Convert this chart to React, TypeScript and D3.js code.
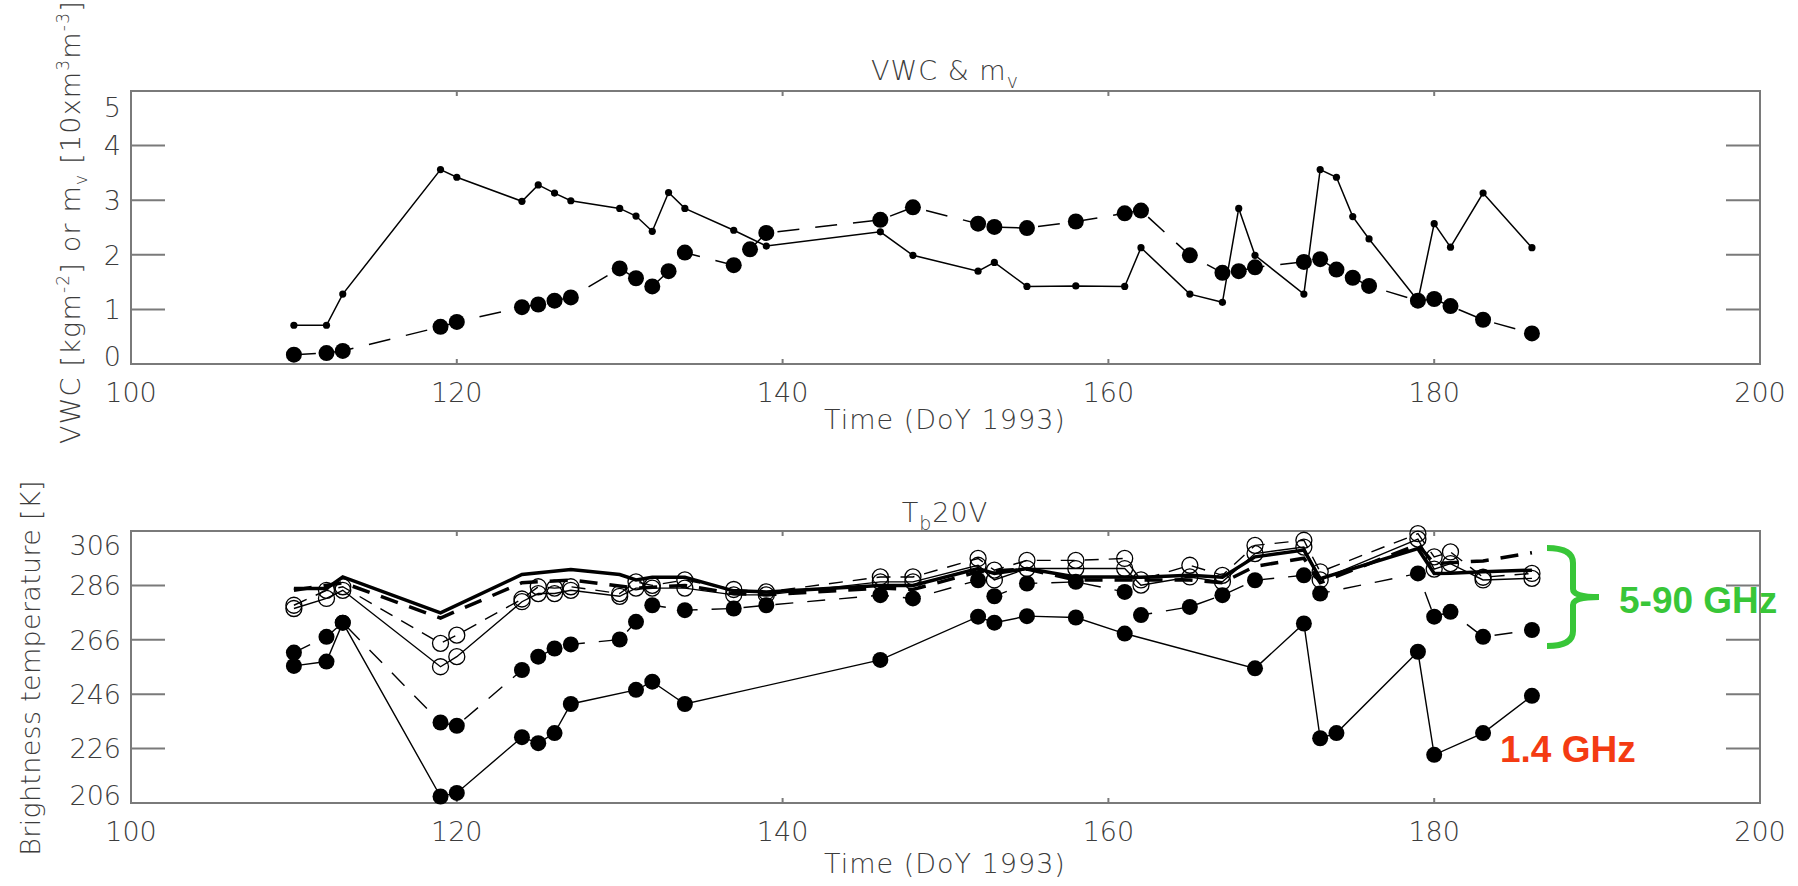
import React from "react";
import * as d3 from "d3";

// top panel: VWC (large dots, dashed) and m_v (small dots, solid)
const mvDays = [110, 112, 113, 119, 120, 124, 125, 126, 127, 130, 131, 132, 133, 134, 137, 139, 146, 148, 152, 153, 155, 158, 161, 162, 165, 167, 168, 169, 172, 173, 174, 175, 176, 179, 180, 181, 183, 186];
const mvValues = [0.71, 0.71, 1.28, 3.56, 3.42, 2.98, 3.28, 3.13, 2.99, 2.85, 2.71, 2.43, 3.14, 2.85, 2.45, 2.16, 2.42, 1.99, 1.7, 1.86, 1.42, 1.43, 1.42, 2.13, 1.28, 1.13, 2.85, 1.99, 1.28, 3.56, 3.42, 2.7, 2.29, 1.16, 2.57, 2.14, 3.13, 2.13];
const vwcDays = [110, 112, 113, 119, 120, 124, 125, 126, 127, 130, 131, 132, 133, 134, 137, 138, 139, 146, 148, 152, 153, 155, 158, 161, 162, 165, 167, 168, 169, 172, 173, 174, 175, 176, 179, 180, 181, 183, 186];
const vwcValues = [0.17, 0.2, 0.24, 0.68, 0.77, 1.04, 1.09, 1.16, 1.22, 1.75, 1.57, 1.42, 1.7, 2.04, 1.81, 2.1, 2.4, 2.64, 2.87, 2.57, 2.51, 2.49, 2.61, 2.76, 2.81, 1.99, 1.67, 1.7, 1.77, 1.87, 1.92, 1.73, 1.58, 1.43, 1.16, 1.19, 1.06, 0.81, 0.56];

// bottom panel: brightness temperatures
const tbDays = [110, 112, 113, 119, 120, 124, 125, 126, 127, 130, 131, 132, 134, 137, 139, 146, 148, 152, 153, 155, 158, 161, 162, 165, 167, 169, 172, 173, 179, 180, 181, 183, 186];
const openUpper = [278.7, 284.2, 285.5, 264.7, 267.7, 281, 285.5, 285, 285.5, 283, 287.3, 286, 288, 284.5, 283.6, 289.1, 289.1, 295.9, 291.6, 295.2, 295.2, 295.9, 288, 293.4, 289.7, 300.7, 302.6, 291, 305, 296.5, 298.3, 289, 290.4];
const openLower = [277.5, 281.2, 284.2, 256.1, 259.8, 280, 283, 283, 284.2, 282, 285, 285, 285, 282.5, 282.5, 287.3, 287.3, 293.4, 288, 292.2, 292.2, 292.2, 286.1, 289.1, 287.3, 297.7, 300.1, 288, 303, 292, 294, 288, 288.6];
const filledDashed = [261.3, 267.1, 272.3, 235.6, 234.4, 254.9, 259.8, 262.8, 264.3, 266.1, 272.6, 278.7, 276.9, 277.5, 278.7, 282.4, 281.2, 287.9, 282, 286.7, 287.3, 283.6, 275.1, 278.1, 282.4, 287.9, 289.7, 283, 290.4, 274.5, 276.3, 267.1, 269.6];

const lDays = [110, 112, 113, 119, 120, 124, 125, 126, 127, 131, 132, 134, 146, 152, 153, 155, 158, 161, 169, 172, 173, 174, 179, 180, 183, 186];
const lValues = [256.4, 258, 272.3, 208.4, 209.7, 230.2, 228, 231.7, 242.4, 247.6, 250.6, 242.4, 258.6, 274.5, 272.3, 274.7, 274.2, 268.3, 255.5, 272, 229.8, 231.7, 261.6, 223.7, 231.7, 245.4];

const thickDays = [110, 112, 113, 119, 124, 127, 130, 131, 132, 134, 137, 139, 146, 148, 152, 153, 155, 158, 161, 162, 165, 167, 169, 172, 173, 179, 180, 181, 183, 186];
const thickValues = [284.9, 284.9, 289.1, 275.9, 290, 291.8, 290, 288, 289, 289, 284, 283.6, 286, 286, 292.2, 290.4, 292.2, 289.1, 289.1, 289, 289.7, 289, 296.5, 299, 288.5, 299.5, 290.4, 290.5, 291, 291.6];
const thickDashDays = [110, 113, 119, 124, 127, 131, 134, 137, 139, 146, 148, 152, 155, 158, 161, 165, 167, 169, 172, 173, 179, 180, 183, 186];
const thickDashValues = [284.2, 287, 274, 287, 288, 285, 286, 283, 282.5, 285, 284.5, 291, 292, 288, 288, 288, 287, 293, 296, 287, 301, 294, 295, 298];

const xTicks = [100, 120, 140, 160, 180, 200];
const topTicks = [0, 1, 2, 3, 4, 5];
const botTicks = [206, 226, 246, 266, 286, 306];

const W = 1798;
const H = 886;
const FONT = "'DejaVu Sans', sans-serif";
const TXT = "#3c3c3c";
const FRAME = "#7a7a7a";

const x = d3.scaleLinear().domain([100, 200]).range([131, 1760]);
const yTop = d3.scaleLinear().domain([0, 5]).range([364, 91]);
const yBot = d3.scaleLinear().domain([206, 306]).range([803, 531]);

function zip(days: number[], vals: number[]) {
  return days.map((d, i) => [d, vals[i]] as [number, number]);
}

function Frame({ y, ticks, labelOffset }: { y: d3.ScaleLinear<number, number>; ticks: number[]; labelOffset: [number, number] }) {
  const [y0, y1] = y.range();
  const [lo, hi] = y.domain();
  return (
    <g>
      <rect x={131} y={y1} width={1760 - 131} height={y0 - y1} fill="none" stroke={FRAME} strokeWidth={2} />
      {xTicks.map((t) => (
        <g key={"xt" + t}>
          <line x1={x(t)} x2={x(t)} y1={y0} y2={y0 - 5} stroke={FRAME} strokeWidth={2} />
          <line x1={x(t)} x2={x(t)} y1={y1} y2={y1 + 5} stroke={FRAME} strokeWidth={2} />
          <text x={x(t)} y={y0 + 38} textAnchor="middle" fontSize={27} fill={TXT} fontFamily={FONT} fontWeight={200}>
            {t}
          </text>
        </g>
      ))}
      {ticks.map((t) => {
        const dy = t === hi ? labelOffset[0] : t === lo ? labelOffset[1] : 0;
        return (
          <g key={"yt" + t}>
            {t !== hi && t !== lo && (
              <>
                <line x1={131} x2={165} y1={y(t)} y2={y(t)} stroke={FRAME} strokeWidth={2} />
                <line x1={1760} x2={1726} y1={y(t)} y2={y(t)} stroke={FRAME} strokeWidth={2} />
              </>
            )}
            <text x={121} y={y(t) + dy} dy="0.36em" textAnchor="end" fontSize={27} fill={TXT} fontFamily={FONT} fontWeight={200}>
              {t}
            </text>
          </g>
        );
      })}
    </g>
  );
}

export default function App() {
  const lineTop = d3.line<[number, number]>().x((d) => x(d[0])).y((d) => yTop(d[1]));
  const lineBot = d3.line<[number, number]>().x((d) => x(d[0])).y((d) => yBot(d[1]));

  const mv = zip(mvDays, mvValues);
  const vwc = zip(vwcDays, vwcValues);
  const oU = zip(tbDays, openUpper);
  const oL = zip(tbDays, openLower);
  const fD = zip(tbDays, filledDashed);
  const lb = zip(lDays, lValues);
  const th = zip(thickDays, thickValues);
  const thD = zip(thickDashDays, thickDashValues);

  return (
    <svg width={W} height={H} style={{ position: "absolute", left: 0, top: 0, display: "block", background: "#fff" }}>
      {/* ---------- top panel ---------- */}
      <text x={945} y={80} textAnchor="middle" fontSize={27} fill={TXT} fontFamily={FONT} fontWeight={200} letterSpacing={1}>
        VWC &amp; m<tspan fontSize={19} dy={8}>v</tspan>
      </text>
      <Frame y={yTop} ticks={topTicks} labelOffset={[16, -8]} />
      <path d={lineTop(vwc) || ""} fill="none" stroke="#000" strokeWidth={1.5} strokeDasharray="22,16" />
      <path d={lineTop(mv) || ""} fill="none" stroke="#000" strokeWidth={1.5} />
      {vwc.map((d, i) => (
        <circle key={"v" + i} cx={x(d[0])} cy={yTop(d[1])} r={8} fill="#000" />
      ))}
      {mv.map((d, i) => (
        <circle key={"m" + i} cx={x(d[0])} cy={yTop(d[1])} r={3.6} fill="#000" />
      ))}
      <text x={945} y={429} textAnchor="middle" fontSize={27} fill={TXT} fontFamily={FONT} fontWeight={200} letterSpacing={1}>
        Time (DoY 1993)
      </text>
      <text transform="translate(80,222) rotate(-90)" textAnchor="middle" fontSize={27} fill={TXT} fontFamily={FONT} fontWeight={200} letterSpacing={1.2}>
        VWC [kgm<tspan fontSize={17} dy={-11}>-2</tspan>
        <tspan dy={11}>] or m</tspan>
        <tspan fontSize={17} dy={7}>v</tspan>
        <tspan dy={-7}> [10xm</tspan>
        <tspan fontSize={17} dy={-11}>3</tspan>
        <tspan dy={11}>m</tspan>
        <tspan fontSize={17} dy={-11}>-3</tspan>
        <tspan dy={11}>]</tspan>
      </text>

      {/* ---------- bottom panel ---------- */}
      <text x={945} y={522} textAnchor="middle" fontSize={27} fill={TXT} fontFamily={FONT} fontWeight={200} letterSpacing={1}>
        T<tspan fontSize={19} dy={8}>b</tspan>
        <tspan dy={-8}>20V</tspan>
      </text>
      <Frame y={yBot} ticks={botTicks} labelOffset={[14, -8]} />
      <path d={lineBot(th) || ""} fill="none" stroke="#000" strokeWidth={3.5} />
      <path d={lineBot(thD) || ""} fill="none" stroke="#000" strokeWidth={3.5} strokeDasharray="18,12" />
      <path d={lineBot(oU) || ""} fill="none" stroke="#000" strokeWidth={1.4} strokeDasharray="14,10" />
      <path d={lineBot(oL) || ""} fill="none" stroke="#000" strokeWidth={1.4} />
      <path d={lineBot(fD) || ""} fill="none" stroke="#000" strokeWidth={1.4} strokeDasharray="18,14" />
      <path d={lineBot(lb) || ""} fill="none" stroke="#000" strokeWidth={1.4} />
      {oU.map((d, i) => (
        <circle key={"ou" + i} cx={x(d[0])} cy={yBot(d[1])} r={8} fill="none" stroke="#000" strokeWidth={1.3} />
      ))}
      {oL.map((d, i) => (
        <circle key={"ol" + i} cx={x(d[0])} cy={yBot(d[1])} r={8} fill="none" stroke="#000" strokeWidth={1.3} />
      ))}
      {fD.map((d, i) => (
        <circle key={"fd" + i} cx={x(d[0])} cy={yBot(d[1])} r={8} fill="#000" />
      ))}
      {lb.map((d, i) => (
        <circle key={"lb" + i} cx={x(d[0])} cy={yBot(d[1])} r={8} fill="#000" />
      ))}
      <text x={945} y={873} textAnchor="middle" fontSize={27} fill={TXT} fontFamily={FONT} fontWeight={200} letterSpacing={1}>
        Time (DoY 1993)
      </text>
      <text transform="translate(40,668) rotate(-90)" textAnchor="middle" fontSize={27} fill={TXT} fontFamily={FONT} fontWeight={200} letterSpacing={0.3}>
        Brightness temperature [K]
      </text>

      {/* annotations */}
      <path
        d="M1547,548 Q1573,548 1573,563 L1573,589 Q1573,597 1599,597 Q1573,597 1573,605 L1573,631 Q1573,646 1547,646"
        fill="none"
        stroke="#38c638"
        strokeWidth={6}
      />
      <text x={1619} y={613} fontSize={37} fontWeight={700} fill="#38c638" fontFamily="'Liberation Sans', Arial, sans-serif">
        5-90 GHz
      </text>
      <text x={1500} y={762} fontSize={37} fontWeight={700} fill="#f43b12" fontFamily="'Liberation Sans', Arial, sans-serif">
        1.4 GHz
      </text>
    </svg>
  );
}
